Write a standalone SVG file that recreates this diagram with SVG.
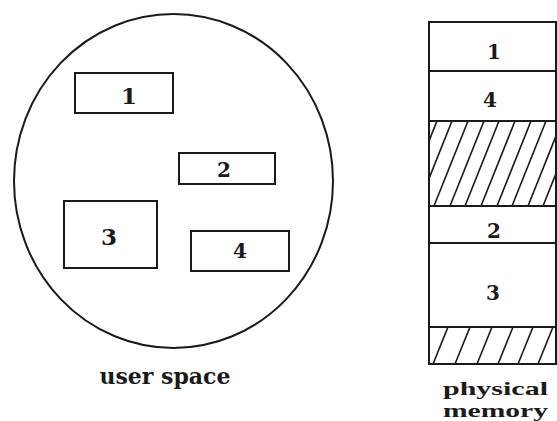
<svg xmlns="http://www.w3.org/2000/svg" width="557" height="421" viewBox="0 0 557 421">
  <style>
    .shape { fill: #ffffff; stroke: #1a1a1a; stroke-width: 2; }
    .line { stroke: #1a1a1a; stroke-width: 2; fill: none; }
    .hatch { stroke: #1a1a1a; stroke-width: 1.6; fill: none; }
    .num { font-family: "DejaVu Serif", "Liberation Serif", serif; font-weight: bold; font-size: 20px; fill: #1a1a1a; text-anchor: middle; }
    .big { font-size: 23px; }
    .label { font-family: "DejaVu Serif", "Liberation Serif", serif; font-weight: bold; font-size: 22px; fill: #1a1a1a; text-anchor: middle; }
    .mlabel { font-family: "Liberation Serif", "DejaVu Serif", serif; font-weight: bold; font-size: 19.5px; fill: #1a1a1a; }
  </style>
  <defs>
    <clipPath id="clipA"><rect x="429" y="121" width="127" height="85"/></clipPath>
    <clipPath id="clipB"><rect x="429" y="327" width="127" height="37"/></clipPath>
  </defs>
  <rect width="557" height="421" fill="#ffffff"/>

  <g id="user-space">
    <ellipse class="shape" cx="173.5" cy="181" rx="159.5" ry="167" stroke-width="1.6"/>
    <text class="label" x="165" y="384">user space</text>
  </g>

  <g id="page-1">
    <rect class="shape" x="75" y="73" width="98" height="40"/>
    <text class="num big" x="129" y="104">1</text>
  </g>
  <g id="page-2">
    <rect class="shape" x="179" y="153" width="96" height="31"/>
    <text class="num" x="224" y="177">2</text>
  </g>
  <g id="page-3">
    <rect class="shape" x="64" y="201" width="93" height="67"/>
    <text class="num big" x="109" y="245">3</text>
  </g>
  <g id="page-4">
    <rect class="shape" x="191" y="231" width="98" height="40"/>
    <text class="num" x="240" y="258">4</text>
  </g>

  <g id="physical-memory">
    <rect class="shape" x="429" y="22" width="127" height="342"/>
    <g id="frame-1">
      <text class="num" x="494" y="59">1</text>
    </g>
    <line class="line" x1="429" y1="71" x2="556" y2="71"/>
    <g id="frame-4">
      <text class="num" x="490" y="107">4</text>
    </g>
    <line class="line" x1="429" y1="121" x2="556" y2="121"/>
    <g id="free-1" clip-path="url(#clipA)">
      <line class="hatch" x1="421" y1="121" x2="387" y2="206"/>
      <line class="hatch" x1="437" y1="121" x2="403" y2="206"/>
      <line class="hatch" x1="452" y1="121" x2="418" y2="206"/>
      <line class="hatch" x1="468" y1="121" x2="434" y2="206"/>
      <line class="hatch" x1="484" y1="121" x2="450" y2="206"/>
      <line class="hatch" x1="499" y1="121" x2="465" y2="206"/>
      <line class="hatch" x1="515" y1="121" x2="481" y2="206"/>
      <line class="hatch" x1="531" y1="121" x2="497" y2="206"/>
      <line class="hatch" x1="546" y1="121" x2="512" y2="206"/>
      <line class="hatch" x1="562" y1="121" x2="528" y2="206"/>
      <line class="hatch" x1="577" y1="121" x2="543" y2="206"/>
      <line class="hatch" x1="593" y1="121" x2="559" y2="206"/>
    </g>
    <line class="line" x1="429" y1="206" x2="556" y2="206"/>
    <g id="frame-2">
      <text class="num" x="494" y="238">2</text>
    </g>
    <line class="line" x1="429" y1="243" x2="556" y2="243"/>
    <g id="frame-3">
      <text class="num" x="493" y="300">3</text>
    </g>
    <line class="line" x1="429" y1="327" x2="556" y2="327"/>
    <g id="free-2" clip-path="url(#clipB)">
      <line class="hatch" x1="427" y1="327" x2="412" y2="364"/>
      <line class="hatch" x1="448" y1="327" x2="433" y2="364"/>
      <line class="hatch" x1="470" y1="327" x2="455" y2="364"/>
      <line class="hatch" x1="492" y1="327" x2="477" y2="364"/>
      <line class="hatch" x1="513" y1="327" x2="498" y2="364"/>
      <line class="hatch" x1="533" y1="327" x2="518" y2="364"/>
      <line class="hatch" x1="553" y1="327" x2="538" y2="364"/>
      <line class="hatch" x1="574" y1="327" x2="559" y2="364"/>
    </g>
    <rect class="line" x="429" y="22" width="127" height="342"/>
    <text class="mlabel" x="443" y="395" textLength="105" lengthAdjust="spacingAndGlyphs">physical</text>
    <text class="mlabel" x="443" y="416.5" textLength="105" lengthAdjust="spacingAndGlyphs">memory</text>
  </g>

  <g id="connectors"/>
</svg>
